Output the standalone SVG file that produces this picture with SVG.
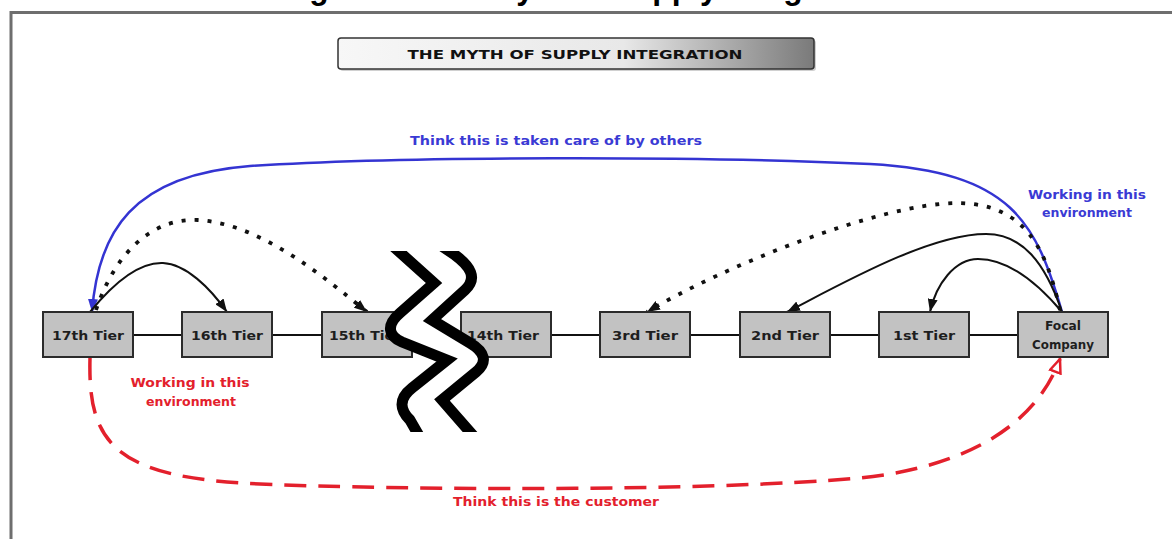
<svg xmlns="http://www.w3.org/2000/svg" width="1172" height="539" viewBox="0 0 1172 539">
  <style>
    .node rect { fill: #c2c2c2; stroke: #2b2b2b; stroke-width: 2; }
    .node text { font-family: "DejaVu Sans", "Liberation Sans", sans-serif; font-weight: bold; font-size: 11.5px; fill: #1e1e1e; text-anchor: middle; }
    .link { fill: none; stroke: #111; stroke-width: 2; }
    .dot { fill: none; stroke: #111; stroke-width: 3.8; stroke-dasharray: 4 9; }
    .blue { fill: none; stroke: #3434d2; stroke-width: 2.5; }
    .red { fill: none; stroke: #e3202c; stroke-width: 3.5; stroke-dasharray: 22 12; }
    .lbl { font-family: "DejaVu Sans", "Liberation Sans", sans-serif; font-weight: bold; font-size: 11.5px; text-anchor: middle; }
    .lb { fill: #3a3ad4; }
    .lr { fill: #e3202c; }
    .squig { fill: none; stroke: #000; stroke-width: 11; stroke-linejoin: miter; }
  </style>
  <defs>
    <linearGradient id="tg" x1="0" y1="0" x2="1" y2="0">
      <stop offset="0" stop-color="#f7f7f7"/>
      <stop offset="0.6" stop-color="#e8e8e8"/>
      <stop offset="1" stop-color="#7a7a7a"/>
    </linearGradient>
    <marker id="ah" viewBox="0 0 13 10" refX="13" refY="5" markerWidth="13" markerHeight="10" markerUnits="userSpaceOnUse" orient="auto">
      <path d="M0 0 L13 5 L0 10 z" fill="#111"/>
    </marker>
    <marker id="ahb" viewBox="0 0 13 10" refX="13" refY="5" markerWidth="13" markerHeight="10" markerUnits="userSpaceOnUse" orient="auto">
      <path d="M0 0 L13 5 L0 10 z" fill="#3434d2"/>
    </marker>
    <marker id="ahr" viewBox="0 0 16 14" refX="15" refY="7" markerWidth="16" markerHeight="14" markerUnits="userSpaceOnUse" orient="auto">
      <path d="M1.5 1.5 L15 7 L1.5 12.5 z" fill="#fff" stroke="#e3202c" stroke-width="2.5" stroke-linejoin="miter"/>
    </marker>
    <clipPath id="sqclip"><rect x="360" y="251" width="150" height="181"/></clipPath>
  </defs>

  <rect x="0" y="0" width="1172" height="539" fill="#fff"/>
  <text x="281" y="-1" font-family="Liberation Sans, sans-serif" font-weight="bold" font-size="34" textLength="610" lengthAdjust="spacingAndGlyphs" fill="#000">Figure 1: The Myth of Supply Integration</text>

  <rect id="frame" x="11" y="12.5" width="1175" height="540" fill="none" stroke="#6e6e6e" stroke-width="3"/>

  <g id="title">
    <rect x="340" y="40" width="476" height="31" rx="3" fill="#b0b0b0" opacity="0.6"/>
    <rect x="338" y="38" width="476" height="31" rx="3" fill="url(#tg)" stroke="#333" stroke-width="1.5"/>
    <text x="575" y="58.5" font-family="DejaVu Sans, Liberation Sans, sans-serif" font-weight="bold" font-size="12.5" text-anchor="middle" textLength="335" lengthAdjust="spacingAndGlyphs" fill="#111">THE MYTH OF SUPPLY INTEGRATION</text>
  </g>

  <g id="connectors">
    <line class="link" x1="133" y1="335" x2="182" y2="335"/>
    <line class="link" x1="272" y1="335" x2="322" y2="335"/>
    <line class="link" x1="412" y1="335" x2="461" y2="335"/>
    <line class="link" x1="551" y1="335" x2="600" y2="335"/>
    <line class="link" x1="690" y1="335" x2="740" y2="335"/>
    <line class="link" x1="830" y1="335" x2="879" y2="335"/>
    <line class="link" x1="969" y1="335" x2="1018" y2="335"/>

    <path class="blue" marker-end="url(#ahb)" d="M 1062 312 C 1036 222, 1012 172, 870 164 C 700 156, 400 156, 250 166 C 132 175, 98 232, 92 312"/>
    <path class="dot" marker-end="url(#ah)" d="M 96 310 C 118 245, 158 218, 198 220 C 262 224, 325 278, 367 312"/>
    <path class="link" marker-end="url(#ah)" d="M 90 312 C 116 280, 140 262, 163 263 C 186 264, 210 288, 227 312"/>
    <path class="dot" marker-end="url(#ah)" d="M 1060 310 C 1046 248, 1025 204, 958 203 C 880 203, 720 268, 647 312"/>
    <path class="link" marker-end="url(#ah)" d="M 1062 312 C 1045 262, 1022 234, 986 234 C 930 234, 845 282, 787 312"/>
    <path class="link" marker-end="url(#ah)" d="M 1062 312 C 1040 286, 1010 259, 978 259 C 955 259, 936 284, 930 312"/>
    <path class="red" marker-end="url(#ahr)" d="M 90 358 C 88 440, 110 478, 260 484 C 400 490, 700 492, 860 478 C 940 470, 1030 440, 1060 359"/>
  </g>

  <g id="n17" class="node"><rect x="43" y="312" width="90" height="45"/><text x="88" y="339.5" textLength="72" lengthAdjust="spacingAndGlyphs">17th Tier</text></g>
  <g id="n16" class="node"><rect x="182" y="312" width="90" height="45"/><text x="227" y="339.5" textLength="72" lengthAdjust="spacingAndGlyphs">16th Tier</text></g>
  <g id="n15" class="node"><rect x="322" y="312" width="90" height="45"/><text x="365" y="339.5" textLength="72" lengthAdjust="spacingAndGlyphs">15th Tier</text></g>
  <g id="n14" class="node"><rect x="461" y="312" width="90" height="45"/><text x="503" y="339.5" textLength="72" lengthAdjust="spacingAndGlyphs">14th Tier</text></g>
  <g id="n3" class="node"><rect x="600" y="312" width="90" height="45"/><text x="645" y="339.5" textLength="66" lengthAdjust="spacingAndGlyphs">3rd Tier</text></g>
  <g id="n2" class="node"><rect x="740" y="312" width="90" height="45"/><text x="785" y="339.5" textLength="68" lengthAdjust="spacingAndGlyphs">2nd Tier</text></g>
  <g id="n1" class="node"><rect x="879" y="312" width="90" height="45"/><text x="924" y="339.5" textLength="62" lengthAdjust="spacingAndGlyphs">1st Tier</text></g>
  <g id="focal" class="node"><rect x="1018" y="312" width="90" height="45"/><text x="1063" y="330" textLength="36" lengthAdjust="spacingAndGlyphs">Focal</text><text x="1063" y="349" textLength="62" lengthAdjust="spacingAndGlyphs">Company</text></g>

  <g id="break" clip-path="url(#sqclip)">
    <path fill="#fff" d="M 384 238 L 434 283 L 400 313 C 386 325, 388 336, 402 342 L 447 360 L 412 388 C 398 399, 400 410, 410 420 L 426 448 L 484 448 L 442 400 L 476 372 C 488 362, 485 352, 470 343 L 432 320 L 465 290 C 478 278, 470 266, 455 255 L 430 238 Z"/>
    <path class="squig" d="M 384 238 L 434 283 L 400 313 C 386 325, 388 336, 402 342 L 447 360 L 412 388 C 398 399, 400 410, 410 420 L 426 448"/>
    <path class="squig" d="M 430 238 L 455 255 C 470 266, 478 278, 465 290 L 432 320 L 470 343 C 485 352, 488 362, 476 372 L 442 400 L 484 448"/>
  </g>

  <g id="labels">
    <text class="lbl lb" x="556" y="145" textLength="292" lengthAdjust="spacingAndGlyphs">Think this is taken care of by others</text>
    <text class="lbl lb" x="1087" y="199" textLength="118" lengthAdjust="spacingAndGlyphs">Working in this</text>
    <text class="lbl lb" x="1087" y="217" textLength="90" lengthAdjust="spacingAndGlyphs">environment</text>
    <text class="lbl lr" x="190" y="387" textLength="119" lengthAdjust="spacingAndGlyphs">Working in this</text>
    <text class="lbl lr" x="191" y="406" textLength="90" lengthAdjust="spacingAndGlyphs">environment</text>
    <text class="lbl lr" x="556" y="506" textLength="206" lengthAdjust="spacingAndGlyphs">Think this is the customer</text>
  </g>
</svg>
